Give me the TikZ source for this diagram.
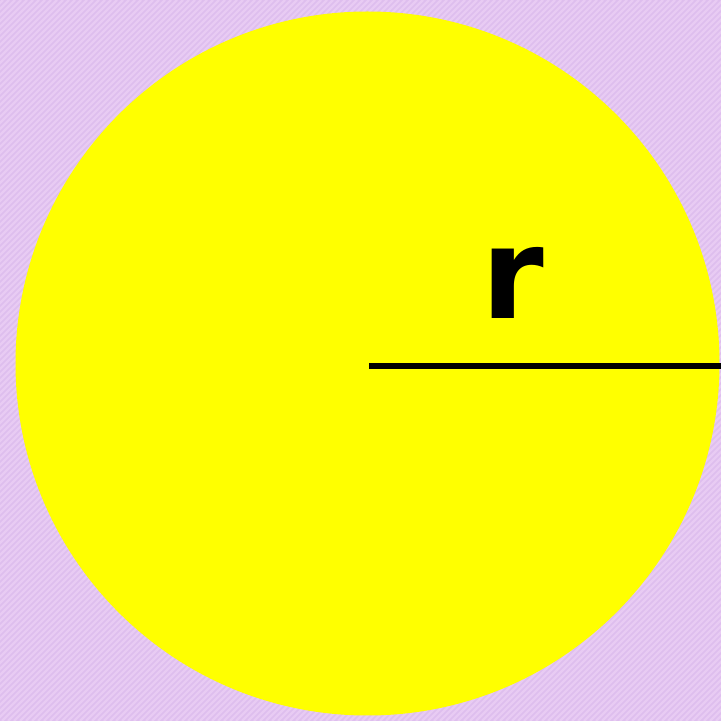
\documentclass[tikz,border=0pt]{standalone}
\usepackage{fontspec}
\setmainfont{DejaVu Sans}
\definecolor{bgpurple}{HTML}{DEBEEE}
\definecolor{bgstripe}{HTML}{E8CBF3}
\definecolor{disk}{HTML}{FFFF00}
\tikzset{
  radiusline/.style={line width=6pt, black},
  label/.style={font=\fontsize{127}{127}\selectfont\bfseries, inner sep=0pt, text=black}
}
\begin{document}
\begin{tikzpicture}[x=1pt,y=1pt]
\useasboundingbox (0,0) rectangle (721,721);
\fill[bgpurple] (0,0) rectangle (721,721);
\begin{scope}
\clip (0,0) rectangle (721,721);
\foreach \k in {-730,-724,...,730} {
  \draw[bgstripe, line width=2.2pt] (\k,0) -- (\k+721,721);
}
\end{scope}
\fill[disk] (367.5,357.5) circle (352);
\coordinate (c) at (369,355);
\coordinate (e) at (721,355);
\draw[radiusline] (c) -- (e);
\node[label] (r) at (512.5,437.8) {r};
\end{tikzpicture}
\end{document}
